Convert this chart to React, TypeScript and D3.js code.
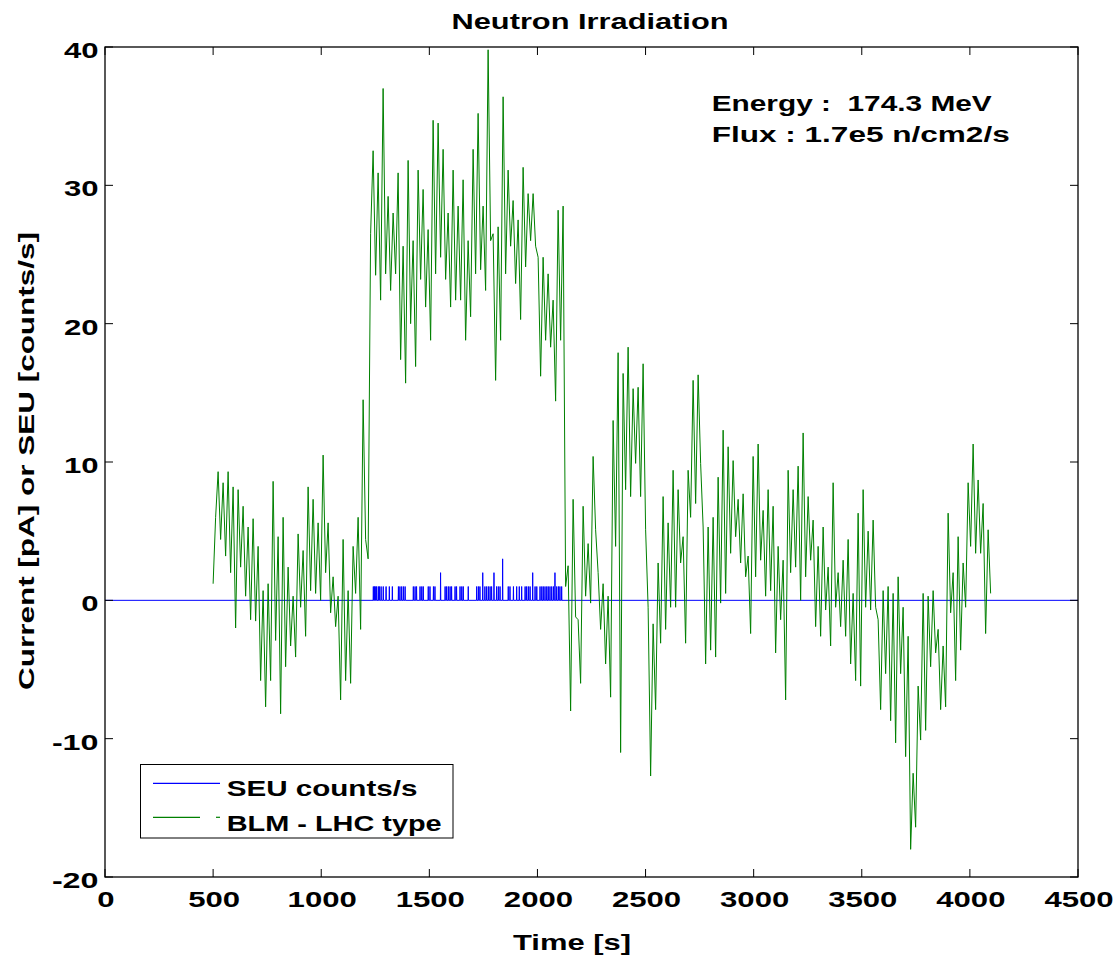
import React from "react";
import * as d3 from "d3";

const xTicks = [0, 500, 1000, 1500, 2000, 2500, 3000, 3500, 4000, 4500];
const yTicks = [-20, -10, 0, 10, 20, 30, 40];

// BLM - LHC type current [pA] (start 500 s, one value every ~11.56 s)
const blmStart = 500;
const blmStep = 11.5625;
const blmValues = [
  1.2, 6.0, 9.3, 4.4, 8.5, 3.2, 9.3, 2.0, 8.2, -2.0, 8.0, 2.4, 6.8, 0.3, 5.3, -1.4,
  5.9, -1.5, 3.9, -5.8, 0.7, -7.7, 1.2, -5.8, 8.6, -2.9, 4.6, -8.2, 6.0, -4.8, 2.4, -3.3,
  0.3, -4.1, 4.8, -0.5, 3.6, -2.6, 8.2, 0.7, 7.3, 0.5, 5.6, 0.0, 10.5, 2.0, 5.6, -0.9,
  1.7, -1.9, 0.3, -7.2, 4.4, -5.8, 0.7, -6.0, 3.9, 0.5, 6.0, -2.1, 14.5, 4.4, 3.0, 26.5,
  32.5, 23.5, 30.9, 21.7, 37.0, 23.6, 29.2, 22.4, 28.0, 23.6, 30.9, 17.4, 25.6, 15.7, 31.8, 20.0,
  26.0, 16.9, 31.1, 23.2, 29.7, 21.2, 26.8, 18.8, 34.7, 23.6, 34.5, 24.8, 32.6, 23.2, 28.0, 21.2,
  31.1, 21.7, 28.5, 21.7, 30.4, 18.8, 26.0, 20.5, 32.6, 23.6, 35.2, 23.9, 28.5, 22.4, 39.8, 26.0,
  26.5, 15.9, 27.0, 18.8, 36.4, 23.6, 31.1, 25.6, 28.9, 22.9, 27.5, 20.3, 31.3, 24.1, 29.4, 26.0,
  29.4, 25.6, 24.8, 16.2, 24.8, 18.8, 23.6, 18.3, 21.7, 14.4, 28.2, 18.8, 28.5, 1.0,
  2.5, -8.0, 7.3, -1.2, -1.4, -6.0, 6.8, 0.3, 4.1, -0.2, 10.4, 5.1, 2.0, -2.1, 1.2, -4.6,
  0.3, -7.0, 13.0, 3.9, 17.9, -11.0, 16.4, 8.0, 18.3, 7.5, 15.3, 9.9, 15.4, 7.5, 17.1, 5.1,
  -0.5, -12.7, -1.7, -7.9, 2.7, -3.1, 7.5, -2.1, 5.6, -0.5, 9.4, -0.5, 8.0, 2.7, 4.6, -3.1,
  9.4, 6.0, 15.9, 7.0, 16.3, 9.9, 5.3, -4.6, 5.3, -3.6, 6.0, -4.1,
  8.9, -0.2, 12.3, 0.5, 11.1, 3.4, 10.1, 4.6, 7.3, 2.7, 7.7, 1.7, 3.2, -2.4, 10.4, 1.7,
  11.3, 2.9, 6.5, 0.3, 8.0, 0.7, 6.8, -3.8, 3.9, -1.4, 2.9, -7.2, 9.4, 2.0, 8.0, 2.4,
  9.7, 0.0, 12.1, 1.7, 7.5, 2.9, 5.8, -1.9, 3.9, -2.6, 5.3, -0.7, 2.4, -3.3, 8.5, -0.5,
  2.0, -1.9, 2.9, -2.6, 4.4, -4.6, 0.5, -5.8, 6.3, -6.2, 8.0, -0.5,
  5.0, -0.7, 5.8, -0.5, -1.4, -7.9, 0.7, -5.3, 1.0, -8.7, 0.5, -10.3, 1.7, -5.3, -0.5, -11.3,
  -2.6, -18.0, -12.5, -16.4, -6.2, -10.1, 0.5, -9.4, 0.3, -4.8, 0.7, -3.8, -2.1, -7.9, -3.3, -7.7,
  6.3, -0.9, 2.0, -5.8, 4.6, -3.6, 2.7, -0.5, 8.5, 3.9, 11.3, 3.4, 8.7, 3.4, 7.0, -2.4,
  5.1, 0.5,
];

// SEU counts/s: zero everywhere except these events
const seuRange = [0, 4500];
const seuTimes = [
  1241, 1246, 1250, 1256, 1264, 1269, 1277, 1287, 1300, 1315, 1329, 1357, 1364, 1372, 1380, 1388,
  1426, 1434, 1441, 1457, 1465, 1472, 1495, 1503, 1519, 1526, 1552, 1573, 1580, 1588, 1596, 1603,
  1619, 1626, 1642, 1650, 1657, 1680, 1719, 1727, 1734, 1747, 1757, 1765, 1773, 1781, 1788, 1799,
  1811, 1819, 1827, 1839, 1865, 1873, 1889, 1904, 1916, 1927, 1943, 1950, 1958, 1966, 1978, 1989,
  1997, 2012, 2020, 2027, 2035, 2043, 2050, 2058, 2066, 2074, 2081, 2089, 2097, 2104, 2112,
];
const seuCounts = [
  1, 1, 1, 1, 1, 1, 1, 1, 1, 1, 1, 1, 1, 1, 1, 1,
  1, 1, 1, 1, 1, 1, 1, 1, 1, 1, 2, 1, 1, 1, 1, 1,
  1, 1, 1, 1, 1, 1, 1, 1, 1, 2, 1, 1, 1, 1, 1, 2,
  1, 1, 1, 3, 1, 1, 1, 1, 1, 1, 1, 1, 1, 1, 2, 1,
  1, 1, 1, 1, 1, 1, 1, 1, 1, 1, 2, 1, 1, 1, 1,
];

const seriesNames = ["SEU counts/s", "BLM - LHC type"];
const seriesColors = ["#0000ff", "#008000"];

const FONT = "'Liberation Sans', Arial, Helvetica, sans-serif";
const W = 1118;
const H = 968;
const L = 105, R = 1078, T = 47, B = 877;

export default function App() {
  const x = d3.scaleLinear().domain([0, 4500]).range([L, R]);
  const y = d3.scaleLinear().domain([-20, 40]).range([B, T]);

  const blmPts: [number, number][] = blmValues.map((v, i) => [blmStart + i * blmStep, v]);
  const seuPts: [number, number][] = [[seuRange[0], 0]];
  seuTimes.forEach((t, i) => {
    seuPts.push([t - 1, 0], [t, seuCounts[i]], [t + 1, 0]);
  });
  seuPts.push([seuRange[1], 0]);

  const line = d3
    .line<[number, number]>()
    .x((d) => x(d[0]))
    .y((d) => y(d[1]));

  const digitW = 17.3;
  const labelLen = (s: string) =>
    s.replace("-", "").length * digitW + (s.startsWith("-") ? 12 : 0);

  const tl = 8;

  return (
    <svg
      width={W}
      height={H}
      style={{ position: "absolute", left: 0, top: 0, background: "#fff" }}
      fontFamily={FONT}
      fontWeight="bold"
    >
      <rect x={0} y={0} width={W} height={H} fill="#fff" />
      <defs>
        <clipPath id="plotclip">
          <rect x={L} y={T} width={R - L} height={B - T} />
        </clipPath>
      </defs>

      <g clipPath="url(#plotclip)">
        <path d={line(seuPts) || ""} fill="none" stroke={seriesColors[0]} strokeWidth={1} />
        <path d={line(blmPts) || ""} fill="none" stroke={seriesColors[1]} strokeWidth={1} strokeLinejoin="bevel" />
      </g>

      {/* axes box */}
      <rect x={L} y={T} width={R - L} height={B - T} fill="none" stroke="#000" strokeWidth={1.3} />

      {/* x ticks */}
      {xTicks.map((t) => (
        <g key={"xt" + t}>
          <line x1={x(t)} x2={x(t)} y1={B} y2={B - tl} stroke="#000" strokeWidth={1} />
          <line x1={x(t)} x2={x(t)} y1={T} y2={T + tl} stroke="#000" strokeWidth={1} />
          <text
            x={x(t) + 1}
            y={907}
            textAnchor="middle"
            fontSize={22}
            textLength={labelLen(String(t))}
            lengthAdjust="spacingAndGlyphs"
            fill="#000"
          >
            {t}
          </text>
        </g>
      ))}

      {/* y ticks */}
      {yTicks.map((v) => (
        <g key={"yt" + v}>
          <line x1={L} x2={L + tl} y1={y(v)} y2={y(v)} stroke="#000" strokeWidth={1} />
          <line x1={R} x2={R - tl} y1={y(v)} y2={y(v)} stroke="#000" strokeWidth={1} />
          <text
            x={98.5}
            y={y(v) + 11}
            textAnchor="end"
            fontSize={22}
            textLength={labelLen(String(v))}
            lengthAdjust="spacingAndGlyphs"
            fill="#000"
          >
            {v}
          </text>
        </g>
      ))}

      {/* title */}
      <text x={590} y={29} textAnchor="middle" fontSize={22} textLength={277} lengthAdjust="spacingAndGlyphs">
        Neutron Irradiation
      </text>

      {/* axis labels */}
      <text x={572} y={950} textAnchor="middle" fontSize={22} textLength={118} lengthAdjust="spacingAndGlyphs">
        Time [s]
      </text>
      <text
        transform="translate(34,461) rotate(-90)"
        textAnchor="middle"
        fontSize={22}
        textLength={458}
        lengthAdjust="spacingAndGlyphs"
      >
        Current [pA] or SEU [counts/s]
      </text>

      {/* annotation */}
      <text x={711.7} y={111} fontSize={22} textLength={280} lengthAdjust="spacingAndGlyphs" style={{ whiteSpace: "pre" }}>
        {"Energy :  174.3 MeV"}
      </text>
      <text x={711.7} y={142} fontSize={22} textLength={298} lengthAdjust="spacingAndGlyphs" style={{ whiteSpace: "pre" }}>
        {"Flux : 1.7e5 n/cm2/s"}
      </text>

      {/* legend */}
      <rect x={140.5} y={764.5} width={312.5} height={73.5} fill="#fff" stroke="#000" strokeWidth={1} />
      <line x1={153} x2={220} y1={783.3} y2={783.3} stroke={seriesColors[0]} strokeWidth={1.2} />
      <line x1={153} x2={200} y1={817.3} y2={817.3} stroke={seriesColors[1]} strokeWidth={1.2} />
      <line x1={216} x2={220} y1={817.3} y2={817.3} stroke={seriesColors[1]} strokeWidth={1.2} />
      <text x={226.7} y={796} fontSize={22} textLength={190.7} lengthAdjust="spacingAndGlyphs">
        {seriesNames[0]}
      </text>
      <text x={226.7} y={830.5} fontSize={22} textLength={215} lengthAdjust="spacingAndGlyphs">
        {seriesNames[1]}
      </text>
    </svg>
  );
}
